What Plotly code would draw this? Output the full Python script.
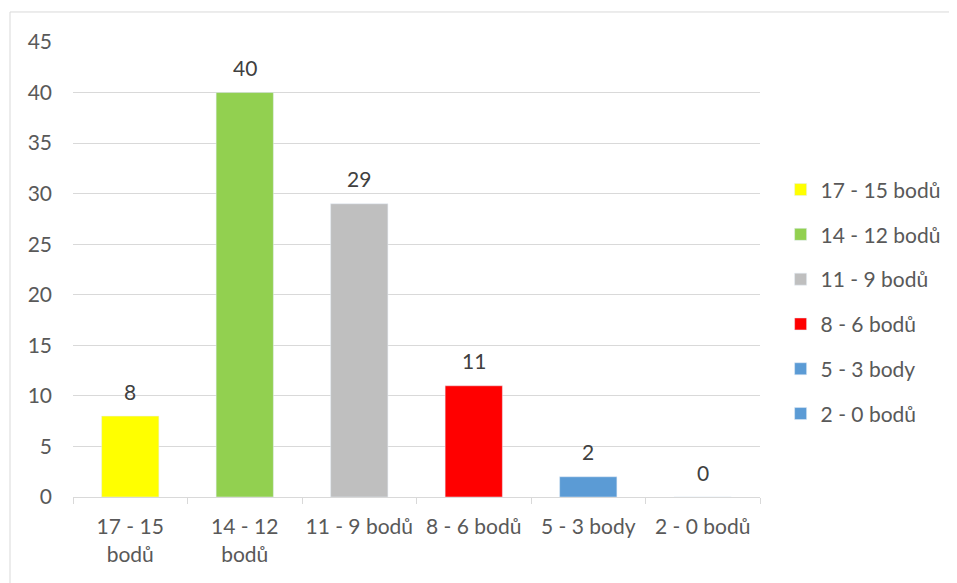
import plotly.graph_objects as go

# data
categories = ["17 - 15 bodů", "14 - 12 bodů", "11 - 9 bodů", "8 - 6 bodů", "5 - 3 body", "2 - 0 bodů"]
tick_labels = ["17 - 15<br>bodů", "14 - 12<br>bodů", "11 - 9 bodů", "8 - 6 bodů", "5 - 3 body", "2 - 0 bodů"]
values = [8, 40, 29, 11, 2, 0]
colors = ["#FFFF00", "#92D050", "#BFBFBF", "#FF0000", "#5B9BD5", "#5B9BD5"]

fig = go.Figure()
for i, cat in enumerate(categories):
    fig.add_trace(go.Bar(
        x=[cat], y=[values[i]], name=cat,
        marker_color=colors[i],
        legendgroup=cat,
    ))
    # value labels sit a little above each bar
    fig.add_annotation(x=cat, y=values[i], text=str(values[i]), showarrow=False,
                       yanchor="middle", yshift=25,
                       font=dict(color="#404040", size=21))

fig.update_layout(
    width=957, height=583,
    margin=dict(l=65, r=205, t=34, b=94),
    paper_bgcolor="white", plot_bgcolor="white",
    font=dict(family="Lato, Calibri, sans-serif", size=21, color="#595959"),
    barmode="relative", bargap=0.5,
    showlegend=True,
    legend=dict(x=1.03, y=0.72, yanchor="top", xanchor="left",
                tracegroupgap=14.5, font=dict(size=21, color="#595959")),
    xaxis=dict(tickmode="array", tickvals=categories, ticktext=tick_labels,
               tickson="boundaries", ticks="outside", ticklen=6, tickcolor="#D9D9D9",
               ticklabelstandoff=11, tickangle=0, automargin=False,
               showline=True, linecolor="#D9D9D9", linewidth=1, showgrid=False),
    yaxis=dict(range=[0, 45], dtick=5, showgrid=True, gridcolor="#D9D9D9",
               zeroline=False, showline=False, ticklabelstandoff=20),
    shapes=[dict(type="rect", xref="paper", yref="paper",
                 x0=-0.0917, x1=1.4, y0=-0.3, y1=1.066,
                 line=dict(color="#D9D9D9", width=1), fillcolor="rgba(0,0,0,0)",
                 layer="below")],
)

fig.write_html("out.html")
